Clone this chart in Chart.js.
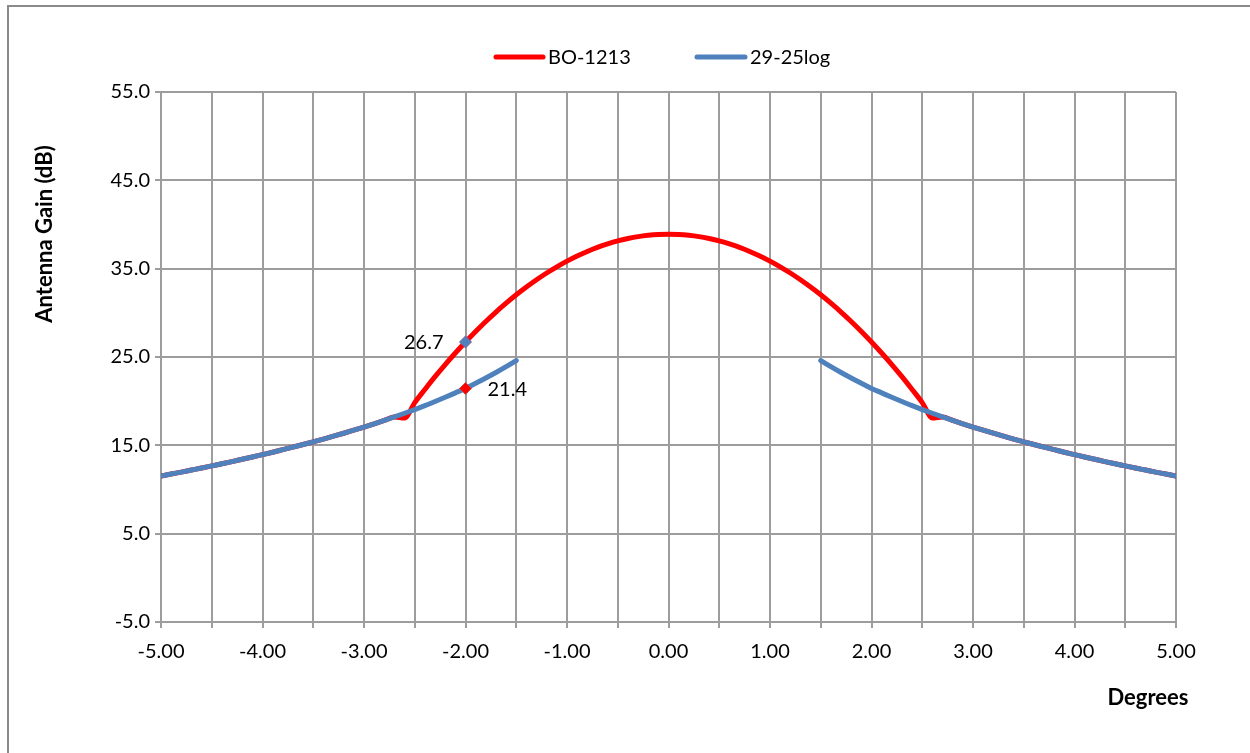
<!DOCTYPE html>
<html>
<head>
<meta charset="utf-8">
<title>Antenna Gain</title>
<script src="https://cdn.jsdelivr.net/npm/chart.js@4.4.1/dist/chart.umd.min.js"></script>
<style>
  html, body { margin: 0; padding: 0; background: #fff; }
  #wrap { width: 1250px; height: 753px; }
</style>
</head>
<body>
<div id="wrap"><canvas id="gainChart" width="1250" height="753"></canvas></div>
<script>
// chart values
const degrees = [
  -5.0, -4.9, -4.8, -4.7, -4.6, -4.5, -4.4, -4.3, -4.2, -4.1,
  -4.0, -3.9, -3.8, -3.7, -3.6, -3.5, -3.4, -3.3, -3.2, -3.1,
  -3.0, -2.9, -2.8, -2.7, -2.6, -2.5, -2.4, -2.3, -2.2, -2.1,
  -2.0, -1.9, -1.8, -1.7, -1.6, -1.5, -1.4, -1.3, -1.2, -1.1,
  -1.0, -0.9, -0.8, -0.7, -0.6, -0.5, -0.4, -0.3, -0.2, -0.1,
  0.0,
  0.1, 0.2, 0.3, 0.4, 0.5, 0.6, 0.7, 0.8, 0.9, 1.0,
  1.1, 1.2, 1.3, 1.4, 1.5, 1.6, 1.7, 1.8, 1.9, 2.0,
  2.1, 2.2, 2.3, 2.4, 2.5, 2.6, 2.7, 2.8, 2.9, 3.0,
  3.1, 3.2, 3.3, 3.4, 3.5, 3.6, 3.7, 3.8, 3.9, 4.0,
  4.1, 4.2, 4.3, 4.4, 4.5, 4.6, 4.7, 4.8, 4.9, 5.0
];

// BO-1213 (red)
const boGain = [
  11.53, 11.75, 11.97, 12.20, 12.43, 12.67, 12.91, 13.16, 13.42, 13.68,
  13.95, 14.22, 14.51, 14.80, 15.09, 15.40, 15.71, 16.04, 16.37, 16.72,
  17.07, 17.44, 17.82, 18.22, 18.10, 19.84, 21.33, 22.77, 24.14, 25.45,
  26.70, 27.89, 29.02, 30.09, 31.09, 32.04, 32.92, 33.75, 34.51, 35.21,
  35.85, 36.43, 36.95, 37.41, 37.80, 38.14, 38.41, 38.63, 38.78, 38.87,
  38.90,
  38.87, 38.78, 38.63, 38.41, 38.14, 37.80, 37.41, 36.95, 36.43, 35.85,
  35.21, 34.51, 33.75, 32.92, 32.04, 31.09, 30.09, 29.02, 27.89, 26.70,
  25.45, 24.14, 22.77, 21.33, 19.84, 18.10, 18.22, 17.82, 17.44, 17.07,
  16.72, 16.37, 16.04, 15.71, 15.40, 15.09, 14.80, 14.51, 14.22, 13.95,
  13.68, 13.42, 13.16, 12.91, 12.67, 12.43, 12.20, 11.97, 11.75, 11.53
];

// 29-25log (blue), no values inside +/-1.5 deg
const logGain = [
  11.53, 11.75, 11.97, 12.20, 12.43, 12.67, 12.91, 13.16, 13.42, 13.68,
  13.95, 14.22, 14.51, 14.80, 15.09, 15.40, 15.71, 16.04, 16.37, 16.72,
  17.07, 17.44, 17.82, 18.22, 18.63, 19.05, 19.49, 19.96, 20.44, 20.94,
  21.44, 22.03, 22.62, 23.24, 23.90, 24.60, null, null, null, null,
  null, null, null, null, null, null, null, null, null, null,
  null,
  null, null, null, null, null, null, null, null, null, null,
  null, null, null, null, 24.60, 23.90, 23.24, 22.62, 22.03, 21.44,
  20.94, 20.44, 19.96, 19.49, 19.05, 18.63, 18.22, 17.82, 17.44, 17.07,
  16.72, 16.37, 16.04, 15.71, 15.40, 15.09, 14.80, 14.51, 14.22, 13.95,
  13.68, 13.42, 13.16, 12.91, 12.67, 12.43, 12.20, 11.97, 11.75, 11.53
];

// labelled points at -2 degrees
const markedDeg = -2.0;
const markedBo = 26.7;
const markedLog = 21.44;

const xTicks = [-5, -4.5, -4, -3.5, -3, -2.5, -2, -1.5, -1, -0.5, 0,
  0.5, 1, 1.5, 2, 2.5, 3, 3.5, 4, 4.5, 5];
const yTicks = [-5, 5, 15, 25, 35, 45, 55];

const RED = '#ff0000';
const BLUE = '#4f81bd';
const GRID = '#9d9d9d';
const FONT = 'Lato, "Open Sans", sans-serif';

Chart.defaults.font.family = FONT;
Chart.defaults.font.size = 20;
Chart.defaults.color = '#000';

const toPoints = arr => degrees.map((d, i) => ({ x: d, y: arr[i] }));

// outer frame, legend, axis titles, point labels
const decorations = {
  id: 'decorations',
  beforeDraw(chart) {
    const ctx = chart.ctx;
    ctx.save();
    ctx.fillStyle = '#fff';
    ctx.fillRect(0, 0, chart.width, chart.height);
    ctx.strokeStyle = '#8a8a8a';
    ctx.lineWidth = 2;
    ctx.strokeRect(8, 6, chart.width + 20, chart.height + 20);
    ctx.restore();
  },
  afterDraw(chart) {
    const ctx = chart.ctx;
    ctx.save();

    // legend
    const items = [
      { text: 'BO-1213', color: RED, x0: 496, x1: 543 },
      { text: '29-25log', color: BLUE, x0: 697, x1: 745 }
    ];
    ctx.font = '20px ' + FONT;
    ctx.textBaseline = 'middle';
    ctx.textAlign = 'left';
    ctx.lineCap = 'round';
    items.forEach(it => {
      ctx.strokeStyle = it.color;
      ctx.lineWidth = 5;
      ctx.beginPath();
      ctx.moveTo(it.x0, 57);
      ctx.lineTo(it.x1, 57);
      ctx.stroke();
      ctx.fillStyle = '#000';
      ctx.fillText(it.text, it.x1 + 5, 58);
    });

    // axis titles
    ctx.font = 'bold 22px ' + FONT;
    ctx.textAlign = 'center';
    ctx.fillText('Degrees', 1148, 698);
    ctx.save();
    ctx.translate(45, 234);
    ctx.rotate(-Math.PI / 2);
    ctx.fillText('Antenna Gain (dB)', 0, 0);
    ctx.restore();

    // data labels on the marked points
    ctx.font = '20px ' + FONT;
    const boPt = chart.getDatasetMeta(2).data[0];
    const logPt = chart.getDatasetMeta(3).data[0];
    ctx.textAlign = 'right';
    ctx.fillText(markedBo.toFixed(1), boPt.x - 22, boPt.y + 1);
    ctx.textAlign = 'left';
    ctx.fillText(markedLog.toFixed(1), logPt.x + 22, logPt.y + 1);

    ctx.restore();
  }
};

new Chart(document.getElementById('gainChart'), {
  type: 'line',
  data: {
    datasets: [
      {
        label: 'BO-1213',
        data: toPoints(boGain),
        borderColor: RED,
        borderWidth: 5,
        borderCapStyle: 'round',
        borderJoinStyle: 'round',
        pointRadius: 0,
        cubicInterpolationMode: 'monotone',
        fill: false,
        order: 3
      },
      {
        label: '29-25log',
        data: toPoints(logGain),
        borderColor: BLUE,
        borderWidth: 5,
        borderCapStyle: 'round',
        borderJoinStyle: 'round',
        pointRadius: 0,
        cubicInterpolationMode: 'monotone',
        spanGaps: false,
        fill: false,
        order: 2
      },
      {
        label: 'BO-1213 point',
        data: [{ x: markedDeg, y: markedBo }],
        showLine: false,
        pointStyle: 'rectRot',
        pointRadius: 6,
        pointBackgroundColor: BLUE,
        pointBorderColor: '#7d60a0',
        pointBorderWidth: 1,
        order: 1
      },
      {
        label: '29-25log point',
        data: [{ x: markedDeg, y: markedLog }],
        showLine: false,
        pointStyle: 'rectRot',
        pointRadius: 6,
        pointBackgroundColor: RED,
        pointBorderColor: '#c0504d',
        pointBorderWidth: 1,
        order: 0
      }
    ]
  },
  options: {
    responsive: false,
    animation: false,
    devicePixelRatio: 1,
    layout: { padding: { top: 92, right: 74, left: 0, bottom: 0 } },
    plugins: {
      legend: { display: false },
      tooltip: { enabled: false }
    },
    scales: {
      x: {
        type: 'linear',
        min: -5,
        max: 5,
        afterBuildTicks: s => { s.ticks = xTicks.map(v => ({ value: v })); },
        afterFit: s => { s.height = 131; },
        ticks: {
          autoSkip: false,
          maxRotation: 0,
          padding: 12,
          callback: v => (Number.isInteger(v) ? v.toFixed(2) : '')
        },
        grid: { color: GRID, lineWidth: 2, tickLength: 6 },
        border: { color: GRID, width: 2 }
      },
      y: {
        type: 'linear',
        min: -5,
        max: 55,
        afterBuildTicks: s => { s.ticks = yTicks.map(v => ({ value: v })); },
        afterFit: s => { s.width = 161; },
        ticks: {
          padding: 5,
          callback: v => v.toFixed(1)
        },
        grid: { color: GRID, lineWidth: 2, tickLength: 6 },
        border: { color: GRID, width: 2 }
      }
    }
  },
  plugins: [decorations]
});
</script>
</body>
</html>
